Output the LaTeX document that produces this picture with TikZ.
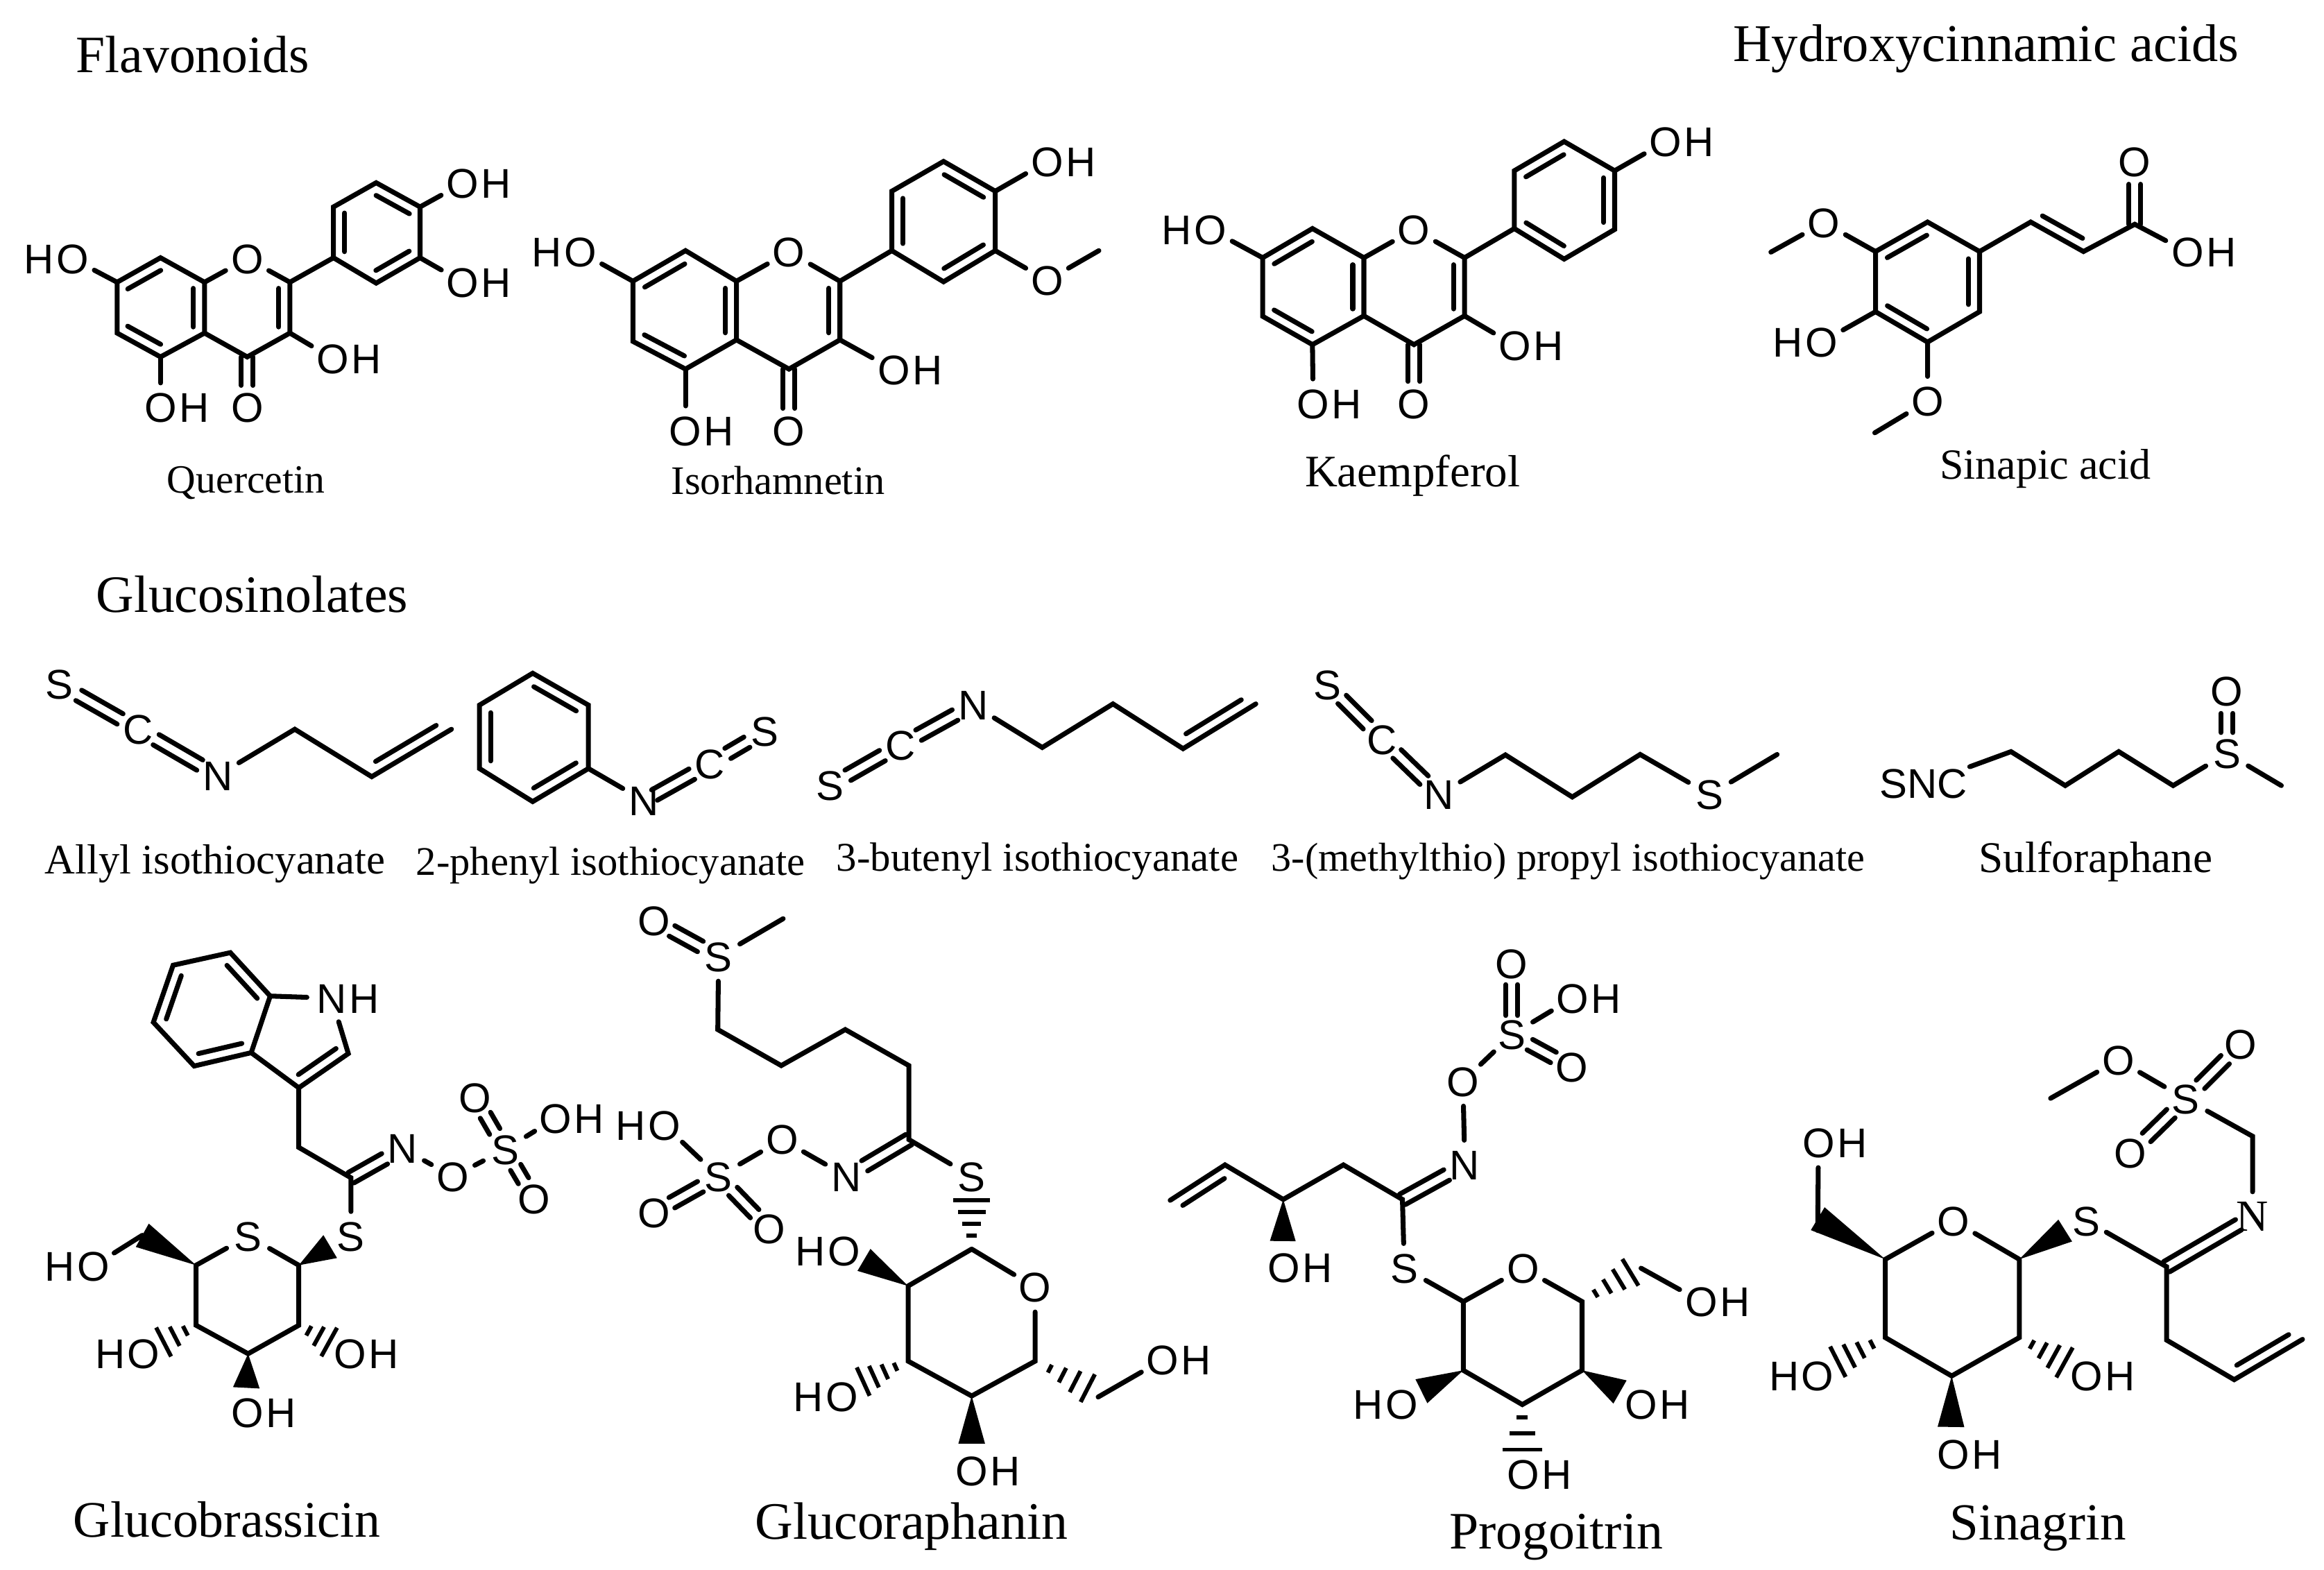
\documentclass[tikz,border=0pt]{standalone}
\usepackage{fontspec}
\setmainfont{Liberation Serif}
\newfontfamily\atomfont{Liberation Sans}
\usetikzlibrary{calc}
\newcommand{\ohgroup}[2]{\node[atom] (#1) at (#2) {O}; \node[hatom,anchor=west] (#1h) at ([xshift=10.9pt]#1.center) {H};}
\newcommand{\hogroup}[2]{\node[atom] (#1) at (#2) {O}; \node[hatom,anchor=east] (#1h) at ([xshift=-10.9pt]#1.center) {H};}
\newcommand{\inbond}[2]{\draw ($(#1)!.12!(#2)!7.5pt!-90:(#2)$) -- ($(#2)!.12!(#1)!7.5pt!90:(#1)$);}
\newcommand{\dblbond}[4]{\draw ($(#1)!#3!(#2)!4pt!90:(#2)$) -- ($(#2)!#4!(#1)!4pt!-90:(#1)$); \draw ($(#1)!#3!(#2)!4pt!-90:(#2)$) -- ($(#2)!#4!(#1)!4pt!90:(#1)$);}
\newcommand{\wedgebond}[3]{\fill (#1) -- ($(#2)!#3!90:(#1)$) -- ($(#2)!#3!-90:(#1)$) -- cycle;}
\newcommand{\hashbond}[4][.28,.52,.76,1]{\foreach \t in {#1} \draw[line width=2.8pt,line cap=butt] ($(#2)!\t!(#3)!\t*#4!90:(#2)$) -- ($(#2)!\t!(#3)!\t*#4!-90:(#2)$);}
\begin{document}
\begin{tikzpicture}[x=1pt, y=-1pt, line width=3.3pt, line cap=round, line join=miter,
	atom/.style = {circle, inner sep=0pt, minimum size=30pt, text height=20pt, text depth=0pt, font=\atomfont\fontsize{28}{28}\selectfont},
	hatom/.style = {inner sep=0pt, text height=20pt, text depth=0pt, font=\atomfont\fontsize{28}{28}\selectfont},
	title/.style = {inner sep=0pt, font=\fontsize{#1}{#1}\selectfont}]
	\useasboundingbox (0,0) rectangle (1568,1059);
	% headings
	\node[title=35.4] (flavonoids) at (130,37) {Flavonoids};
	\node[title=35.8] (hydroxy) at (1340,33) {Hydroxycinnamic acids};
	\node[title=35.4] (glucosinolates) at (170,401) {Glucosinolates};
	% quercetin
	\path (79,190.4) coordinate (q7) (108.3,173.9) coordinate (q8) (138,190.4) coordinate (q8a) (138,224.7) coordinate (q4a) (108.3,240.8) coordinate (q5) (79,224.7) coordinate (q6);
	\path (195.6,190.4) coordinate (q2) (195.6,224.7) coordinate (q3) (166.8,240.8) coordinate (q4);
	\path (225,173.9) coordinate (qb1) (225,139.6) coordinate (qb2) (253.8,123.3) coordinate (qb3) (283.4,139.6) coordinate (qb4) (283.4,173.9) coordinate (qb5) (253.8,191) coordinate (qb6);
	\node[atom] (qo1) at (166.8,174.5) {O};
	\node[atom] (qo4) at (166.8,275) {O};
	\hogroup{qo7}{48.9,174.5}
	\ohgroup{qo3}{224.5,241.9}
	\ohgroup{qo5}{108.3,275}
	\ohgroup{qob4}{312.2,123.7}
	\ohgroup{qob5}{312.2,190.4}
	\draw (q7) -- (q8) -- (q8a) -- (q4a) -- (q5) -- (q6) -- cycle;
	\draw (q8a) -- (qo1) -- (q2) -- (q3) -- (q4) -- (q4a);
	\draw (qb1) -- (qb2) -- (qb3) -- (qb4) -- (qb5) -- (qb6) -- cycle;
	\draw (q2) -- (qb1);
	\draw (q7) -- (qo7);
	\draw (q3) -- (qo3);
	\draw (q5) -- (qo5);
	\draw (qb4) -- (qob4);
	\draw (qb5) -- (qob5);
	\dblbond{q4}{qo4}{0pt}{15pt}
	\inbond{q7}{q8} \inbond{q8a}{q4a} \inbond{q5}{q6} \inbond{q2}{q3}
	\inbond{qb1}{qb2} \inbond{qb3}{qb4} \inbond{qb5}{qb6}
	\node[title=27] (quercetin) at (166,326) {Quercetin};
	% isorhamnetin
	\path (427,189.7) coordinate (i7) (462.5,169.1) coordinate (i8) (496.9,189.7) coordinate (i8a) (496.9,229.3) coordinate (i4a) (462.5,249) coordinate (i5) (427,230.3) coordinate (i6);
	\path (566.7,189.7) coordinate (i2) (566.7,229.3) coordinate (i3) (532.3,249) coordinate (i4);
	\path (601.7,169.1) coordinate (ib1) (601.7,129) coordinate (ib2) (636.6,108.9) coordinate (ib3) (671.5,129) coordinate (ib4) (671.5,169.1) coordinate (ib5) (636.6,190.1) coordinate (ib6) (741.4,169.1) coordinate (ime);
	\node[atom] (io1) at (532.3,170) {O};
	\node[atom] (io4) at (532.3,290.5) {O};
	\node[atom] (iob5) at (706.5,189.2) {O};
	\hogroup{io7}{391.5,170}
	\ohgroup{io3}{603,249.4}
	\ohgroup{io5}{462.5,290.5}
	\ohgroup{iob4}{706.5,108.9}
	\draw (i7) -- (i8) -- (i8a) -- (i4a) -- (i5) -- (i6) -- cycle;
	\draw (i8a) -- (io1) -- (i2) -- (i3) -- (i4) -- (i4a);
	\draw (ib1) -- (ib2) -- (ib3) -- (ib4) -- (ib5) -- (ib6) -- cycle;
	\draw (i2) -- (ib1);
	\draw (i7) -- (io7);
	\draw (i3) -- (io3);
	\draw (i5) -- (io5);
	\draw (ib4) -- (iob4);
	\draw (ib5) -- (iob5) -- (ime);
	\dblbond{i4}{io4}{0pt}{15pt}
	\inbond{i7}{i8} \inbond{i8a}{i4a} \inbond{i5}{i6} \inbond{i2}{i3}
	\inbond{ib1}{ib2} \inbond{ib3}{ib4} \inbond{ib5}{ib6}
	\node[title=27.3] (isorhamnetin) at (525,324) {Isorhamnetin};
	% kaempferol
	\path (851.9,173.9) coordinate (k7) (885.5,154.2) coordinate (k8) (920.2,173.9) coordinate (k8a) (920.2,213.1) coordinate (k4a) (885.5,232.5) coordinate (k5) (851.9,213.4) coordinate (k6);
	\path (988.1,173.9) coordinate (k2) (988.1,213.1) coordinate (k3) (954,232.5) coordinate (k4);
	\path (1021.7,154.2) coordinate (kb1) (1021.7,115.2) coordinate (kb2) (1055.3,95.5) coordinate (kb3) (1089.4,115.2) coordinate (kb4) (1089.4,154.8) coordinate (kb5) (1055.3,174.8) coordinate (kb6);
	\node[atom] (ko1) at (954,154.8) {O};
	\node[atom] (ko4) at (954,272.3) {O};
	\hogroup{ko7}{816.7,154.8}
	\ohgroup{ko3}{1022,233.1}
	\ohgroup{ko5}{886,272.3}
	\ohgroup{kob4}{1123.8,95.5}
	\draw (k7) -- (k8) -- (k8a) -- (k4a) -- (k5) -- (k6) -- cycle;
	\draw (k8a) -- (ko1) -- (k2) -- (k3) -- (k4) -- (k4a);
	\draw (kb1) -- (kb2) -- (kb3) -- (kb4) -- (kb5) -- (kb6) -- cycle;
	\draw (k2) -- (kb1);
	\draw (k7) -- (ko7);
	\draw (k3) -- (ko3);
	\draw (k5) -- (ko5);
	\draw (kb4) -- (kob4);
	\dblbond{k4}{ko4}{0pt}{15pt}
	\inbond{k7}{k8} \inbond{k8a}{k4a} \inbond{k5}{k6} \inbond{k2}{k3}
	\inbond{kb2}{kb3} \inbond{kb4}{kb5} \inbond{kb6}{kb1}
	\node[title=30.4] (kaempferol) at (953,321) {Kaempferol};
	% sinapic acid
	\path (1335.6,169.7) coordinate (s1) (1300.5,149.8) coordinate (s2) (1265.4,169.7) coordinate (s3) (1265.4,210.3) coordinate (s4) (1300.5,230.8) coordinate (s5) (1335.6,210.3) coordinate (s6);
	\path (1194.8,170.1) coordinate (sme3) (1264.9,292) coordinate (sme5) (1370.1,149.8) coordinate (sa) (1405.7,169.7) coordinate (sb) (1440.3,151.3) coordinate (sc);
	\node[atom] (so3) at (1230.6,150.2) {O};
	\node[atom] (so5) at (1300.5,270.6) {O};
	\node[atom] (soc) at (1440.3,109.3) {O};
	\hogroup{so4}{1229,230.8}
	\ohgroup{soh}{1475.9,170.1}
	\draw (s2) -- (s1) -- (s6) -- (s5) -- (s4) -- (s3) -- cycle;
	\draw (s3) -- (so3) -- (sme3);
	\draw (s5) -- (so5) -- (sme5);
	\draw (s4) -- (so4);
	\draw (s1) -- (sa) -- (sb) -- (sc) -- (soh);
	\dblbond{sc}{soc}{0pt}{15pt}
	\inbond{s3}{s2} \inbond{s1}{s6} \inbond{s5}{s4} \inbond{sb}{sa}
	\node[title=29] (sinapic) at (1380,316) {Sinapic acid};
	% allyl isothiocyanate
	\path (198.9,492) coordinate (a1) (250.8,524) coordinate (a2) (304.6,492) coordinate (a3);
	\node[atom] (as) at (40.1,461.7) {S};
	\node[atom] (ac) at (93.2,492) {C};
	\node[atom] (an) at (146.9,523.2) {N};
	\dblbond{as}{ac}{15pt}{14pt}
	\dblbond{ac}{an}{14pt}{14pt}
	\draw (an) -- (a1) -- (a2) -- (a3);
	\inbond{a3}{a2}
	\node[title=28.4] (allyl) at (145,582.5) {Allyl isothiocyanate};
	% 2-phenyl isothiocyanate
	\path (359.4,454.2) coordinate (p1) (397,475.7) coordinate (p2) (397,518.5) coordinate (p3) (359.4,540.8) coordinate (p4) (323.5,518.5) coordinate (p5) (323.5,475.7) coordinate (p6);
	\node[atom] (pn) at (434.6,540.3) {N};
	\node[atom] (pc) at (479,515.4) {C};
	\node[atom] (ps) at (516,493.6) {S};
	\draw (p1) -- (p2) -- (p3) -- (p4) -- (p5) -- (p6) -- cycle;
	\draw (p3) -- (pn);
	\dblbond{pn}{pc}{8pt}{14pt}
	\dblbond{pc}{ps}{14pt}{14pt}
	\inbond{p1}{p2} \inbond{p3}{p4} \inbond{p5}{p6}
	\node[title=27.4] (phenyl) at (412,584) {2-phenyl isothiocyanate};
	% 3-butenyl isothiocyanate
	\path (703.2,504.3) coordinate (b1) (750.9,474.9) coordinate (b2) (798.2,505.1) coordinate (b3) (847.3,474.9) coordinate (b4);
	\node[atom] (bs) at (559.9,530) {S};
	\node[atom] (bc) at (607.5,502.8) {C};
	\node[atom] (bn) at (656.6,475.6) {N};
	\dblbond{bs}{bc}{14pt}{14pt}
	\dblbond{bc}{bn}{14pt}{14pt}
	\draw (bn) -- (b1) -- (b2) -- (b3) -- (b4);
	\inbond{b4}{b3}
	\node[title=27.5] (butenyl) at (700,581) {3-butenyl isothiocyanate};
	% 3-(methylthio) propyl isothiocyanate
	\path (1015.7,509.3) coordinate (m1) (1060.8,537.7) coordinate (m2) (1106.6,509) coordinate (m3) (1199,509) coordinate (m4);
	\node[atom] (ms) at (895.6,462) {S};
	\node[atom] (mc) at (932.5,498.9) {C};
	\node[atom] (mn) at (970.9,536.1) {N};
	\node[atom] (mt) at (1153.6,536.1) {S};
	\dblbond{ms}{mc}{14pt}{14pt}
	\dblbond{mc}{mn}{14pt}{14pt}
	\draw (mn) -- (m1) -- (m2) -- (m3) -- (mt) -- (m4);
	\node[title=27.2] (methylthio) at (1058,581) {3-(methylthio) propyl isothiocyanate};
	% sulforaphane
	\path (1356.8,507.1) coordinate (f1) (1393.4,530) coordinate (f2) (1429.5,507.1) coordinate (f3) (1466.2,530) coordinate (f4) (1539.2,530) coordinate (f5);
	\node[hatom] (fnc) at (1297.8,528.7) {SNC};
	\node[atom] (fs) at (1502.5,508.2) {S};
	\node[atom] (fo) at (1502.5,466.3) {O};
	\draw (fnc) -- (f1) -- (f2) -- (f3) -- (f4) -- (fs) -- (f5);
	\dblbond{fs}{fo}{14pt}{15pt}
	\node[title=29.6] (sulforaphane) at (1414,581.5) {Sulforaphane};
	% glucobrassicin
	\path (155.4,642.7) coordinate (gb1) (182.3,672) coordinate (gb2) (169.5,710.2) coordinate (gb3) (131,719.2) coordinate (gb4) (103.5,689.7) coordinate (gb5) (116.8,651.2) coordinate (gb6);
	\path (235,710.8) coordinate (gbc2) (201.6,733.9) coordinate (gbc3) (201.6,774.1) coordinate (gbch) (236.8,794.6) coordinate (gbc);
	\path (201.6,853.6) coordinate (gr1) (132.3,853.6) coordinate (gr5) (132.3,894.1) coordinate (gr4) (167.4,913.3) coordinate (gr3) (201.6,894.1) coordinate (gr2);
	\path (222.8,841) coordinate (gw1) (96,833.4) coordinate (gw5) (110.4,905.4) coordinate (gh4) (222.1,905.4) coordinate (gh2) (166.2,936.3) coordinate (gw3);
	\node[atom] (gbn) at (223.7,673.4) {N};
	\node[hatom,anchor=west] (gbnh) at ([xshift=10.1pt]gbn.center) {H};
	\node[atom] (gbeq) at (271.7,774.9) {N};
	\node[atom] (gbo) at (305.6,793.8) {O};
	\node[atom] (gbsu) at (340.8,775.5) {S};
	\node[atom] (gbo1) at (320.5,740.3) {O};
	\node[atom] (gbo2) at (360.3,808.7) {O};
	\ohgroup{gbo3}{374.9,754.4}
	\node[atom] (gbs) at (236.8,834) {S};
	\node[atom] (gbr) at (167.4,834) {S};
	\hogroup{gbh6}{62.9,854.2}
	\hogroup{gbh4}{97,913.3}
	\ohgroup{gbh2}{236.3,913.3}
	\ohgroup{gbh3}{166.9,953.2}
	\draw (gb1) -- (gb2) -- (gb3) -- (gb4) -- (gb5) -- (gb6) -- cycle;
	\draw (gb2) -- (gbn) -- (gbc2) -- (gbc3) -- (gb3);
	\draw (gbc3) -- (gbch) -- (gbc) -- (gbs);
	\dblbond{gbc}{gbeq}{0pt}{14pt}
	\draw (gbeq) -- (gbo) -- (gbsu) -- (gbo3);
	\dblbond{gbsu}{gbo1}{14pt}{14pt}
	\dblbond{gbsu}{gbo2}{14pt}{14pt}
	\inbond{gb1}{gb2} \inbond{gb3}{gb4} \inbond{gb5}{gb6} \inbond{gbc2}{gbc3}
	\draw (gr1) -- (gr2) -- (gr3) -- (gr4) -- (gr5) -- (gbr) -- (gr1);
	\wedgebond{gr1}{gw1}{9pt}
	\wedgebond{gr5}{gw5}{9pt}
	\wedgebond{gr3}{gw3}{9pt}
	\draw (gw5) -- (gbh6);
	\hashbond[.33,.66,1]{gr4}{gh4}{11pt}
	\hashbond[.33,.66,1]{gr2}{gh2}{11pt}
	\node[title=34.5] (glucobrassicin) at (153,1025) {Glucobrassicin};
	% glucoraphanin
	\path (528.4,619.8) coordinate (r0) (484.3,694.6) coordinate (r1) (527.1,718.9) coordinate (r2) (570.3,694.6) coordinate (r3) (613.2,718.9) coordinate (r4) (613.2,768.8) coordinate (r5);
	\path (655.6,842.7) coordinate (rr1) (698.4,918.3) coordinate (rr5) (655.6,941.8) coordinate (rr4) (612.7,918.3) coordinate (rr3) (612.7,867.6) coordinate (rr2);
	\path (655.6,809.8) coordinate (rh1) (582.9,850) coordinate (rw2) (582.4,932.1) coordinate (rh3) (655.6,974) coordinate (rw4) (733.9,936.5) coordinate (rh5);
	\node[atom] (ro1) at (441.1,621.3) {O};
	\node[atom] (rs1) at (484.8,645.3) {S};
	\node[atom] (rn) at (571.3,793.7) {N};
	\node[atom] (ro) at (527.7,768.8) {O};
	\node[atom] (rs2) at (484.8,793.7) {S};
	\hogroup{ro2}{448.3,759.1}
	\node[atom] (ro3) at (441.1,818.3) {O};
	\node[atom] (ro4) at (518.9,828.9) {O};
	\node[atom] (rs3) at (655.6,793.7) {S};
	\node[atom] (rring) at (698.4,868.5) {O};
	\hogroup{roh2}{569.5,844.1}
	\hogroup{roh3}{568.2,942.3}
	\ohgroup{roh4}{655.6,992.2}
	\ohgroup{roh5}{784.5,917.4}
	\dblbond{rs1}{ro1}{14pt}{14pt}
	\draw (r0) -- (rs1) -- (r1) -- (r2) -- (r3) -- (r4) -- (r5) -- (rs3);
	\dblbond{r5}{rn}{0pt}{14pt}
	\draw (rn) -- (ro) -- (rs2) -- (ro2);
	\dblbond{rs2}{ro3}{14pt}{14pt}
	\dblbond{rs2}{ro4}{14pt}{14pt}
	\draw (rr1) -- (rring) -- (rr5) -- (rr4) -- (rr3) -- (rr2) -- (rr1);
	\hashbond{rr1}{rh1}{12.3pt}
	\wedgebond{rr2}{rw2}{8.6pt}
	\hashbond{rr3}{rh3}{10.5pt}
	\wedgebond{rr4}{rw4}{9pt}
	\hashbond{rr5}{rh5}{10.5pt}
	\draw ([xshift=7pt,yshift=-6pt]rh5) -- (roh5);
	\node[title=35.5] (glucoraphanin) at (615,1030) {Glucoraphanin};
	% progoitrin
	\path (789.5,809.8) coordinate (g0) (826.5,785.9) coordinate (g1) (865.8,809.2) coordinate (g2) (906.4,785.9) coordinate (g3) (946.2,809.2) coordinate (g4);
	\path (987.3,878.1) coordinate (gg1) (1067.4,878.1) coordinate (gg5) (1067.4,924.5) coordinate (gg4) (1027.1,947.6) coordinate (gg3) (987.3,924.5) coordinate (gg2);
	\path (865.5,837.3) coordinate (gv1) (959,938.6) coordinate (gv2) (1093,939.1) coordinate (gv4) (1027.1,978) coordinate (gh3) (1100,858.4) coordinate (gh5) (1107.2,855.6) coordinate (gch);
	\node[atom] (gn) at (988.3,785.9) {N};
	\node[atom] (go) at (987,729.6) {O};
	\node[atom] (gs) at (1019.9,698.1) {S};
	\node[atom] (go1) at (1019.9,650.3) {O};
	\ohgroup{go2}{1061,673.4}
	\node[atom] (go3) at (1060.4,720.1) {O};
	\node[atom] (gs2) at (947.5,855.6) {S};
	\node[atom] (gring) at (1027.6,855.6) {O};
	\ohgroup{goh0}{866.3,855}
	\hogroup{goh2}{945.9,947.6}
	\ohgroup{goh4}{1107.2,947.6}
	\ohgroup{goh3}{1027.6,994.8}
	\ohgroup{goh5}{1147.8,878.1}
	\draw (g0) -- (g1) -- (g2) -- (g3) -- (g4) -- (gs2) -- (gg1);
	\inbond{g0}{g1}
	\dblbond{g4}{gn}{0pt}{14pt}
	\draw (gn) -- (go) -- (gs) -- (go2);
	\dblbond{gs}{go1}{13pt}{14pt}
	\dblbond{gs}{go3}{14pt}{14pt}
	\wedgebond{g2}{gv1}{8.7pt}
	\draw (gg1) -- (gring) -- (gg5) -- (gg4) -- (gg3) -- (gg2) -- (gg1);
	\wedgebond{gg2}{gv2}{9pt}
	\wedgebond{gg4}{gv4}{9pt}
	\hashbond[.28,.64,1]{gg3}{gh3}{13.5pt}
	\hashbond{gg5}{gh5}{10.5pt}
	\draw (gch) -- (goh5);
	\node[title=35.5] (progoitrin) at (1050,1037) {Progoitrin};
	% sinagrin
	\path (1383.5,741) coordinate (n0) (1519.8,766.6) coordinate (n1) (1461.8,854.6) coordinate (n2) (1461.8,904.1) coordinate (n3) (1507.4,930.8) coordinate (n4) (1553.5,903.6) coordinate (n5);
	\path (1362.4,849.6) coordinate (nr1) (1272,849.6) coordinate (nr5) (1272,902.4) coordinate (nr4) (1316.8,928.3) coordinate (nr3) (1362.4,902.4) coordinate (nr2);
	\path (1393.4,830.2) coordinate (nw1) (1226.4,822.2) coordinate (nw5) (1240,918.7) coordinate (nh4) (1392.9,919.2) coordinate (nh2) (1316.3,962.7) coordinate (nw3);
	\node[atom] (no) at (1429.3,715.1) {O};
	\node[atom] (ns) at (1474.7,741.5) {S};
	\node[atom] (no1) at (1511.9,704.3) {O};
	\node[atom] (no2) at (1437.5,777.9) {O};
	\node[atom,font=\fontsize{30}{30}\selectfont] (nn) at (1519.8,820.7) {N};
	\node[atom,minimum size=24pt] (ns2) at (1407.8,823.7) {S};
	\node[atom] (nring) at (1318.1,823.7) {O};
	\ohgroup{noh6}{1226.9,771.1}
	\hogroup{noh4}{1226.4,928.3}
	\ohgroup{noh2}{1407.8,928.3}
	\ohgroup{noh3}{1318.1,981.1}
	\draw (n0) -- (no) -- (ns) -- (n1) -- (nn);
	\dblbond{ns}{no1}{14pt}{15pt}
	\dblbond{ns}{no2}{14pt}{15pt}
	\dblbond{n2}{nn}{0pt}{11pt}
	\draw (ns2) -- (n2) -- (n3) -- (n4) -- (n5);
	\inbond{n5}{n4}
	\draw (nr1) -- (nring) -- (nr5) -- (nr4) -- (nr3) -- (nr2) -- (nr1);
	\wedgebond{nr1}{nw1}{8.7pt}
	\wedgebond{nr5}{nw5}{9pt}
	\wedgebond{nr3}{nw3}{9pt}
	\draw ([yshift=-8pt]nw5) -- (noh6);
	\hashbond{nr4}{nh4}{11.5pt}
	\hashbond{nr2}{nh2}{11.5pt}
	\node[title=35.1] (sinagrin) at (1375,1031) {Sinagrin};
\end{tikzpicture}
\end{document}
